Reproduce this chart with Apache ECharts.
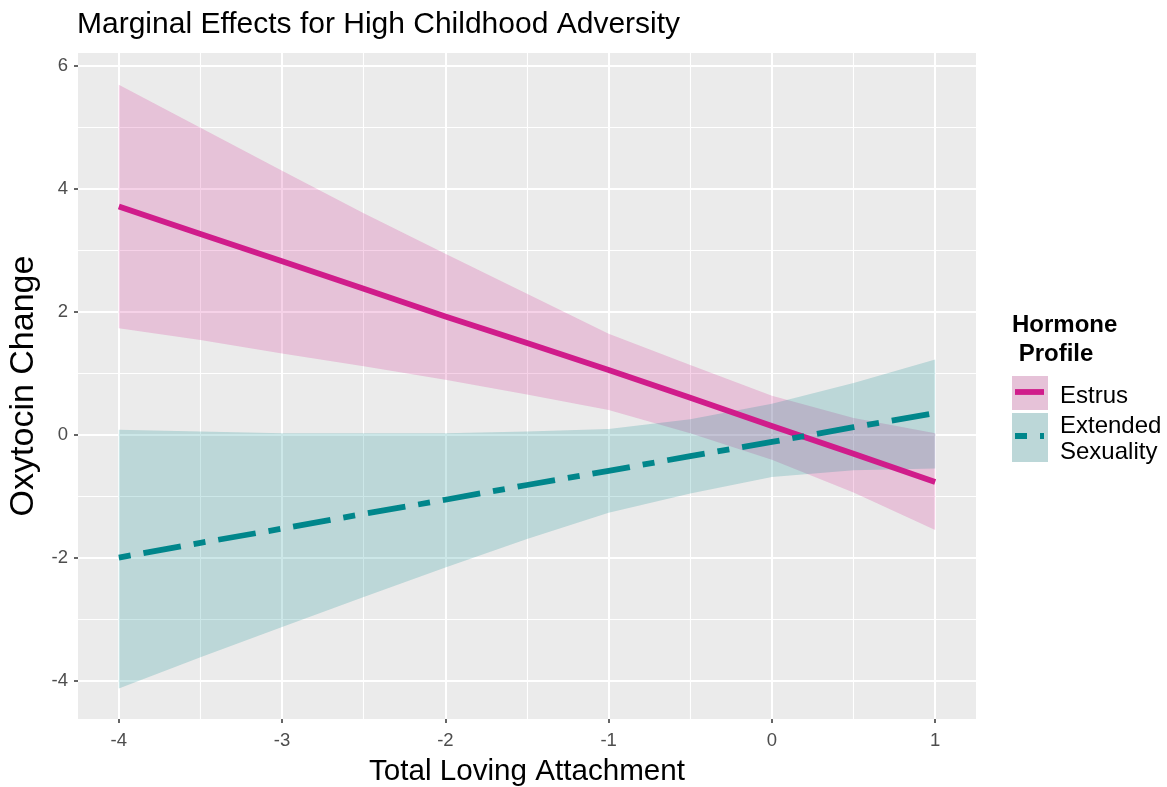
<!DOCTYPE html>
<html>
<head>
<meta charset="utf-8">
<title>Marginal Effects for High Childhood Adversity</title>
<script src="https://cdn.jsdelivr.net/npm/echarts@6/dist/echarts.min.js"></script>
<style>
  html, body { margin: 0; padding: 0; background: #ffffff; }
  #chart { width: 1167px; height: 787px; }
</style>
</head>
<body>
<div id="chart"></div>
<script>
// Total Loving Attachment values at which the marginal effects were evaluated
const attachment = [-4, -3.5, -3, -2.5, -2, -1.5, -1, -0.5, 0, 0.5, 1];

// Estrus: predicted oxytocin change with its confidence band
const estrusFit   = [3.72, 3.27, 2.83, 2.38, 1.93, 1.50, 1.06, 0.61, 0.15, -0.30, -0.76];
const estrusLower = [1.74, 1.55, 1.33, 1.12, 0.90, 0.66, 0.41, 0.03, -0.40, -0.93, -1.54];
const estrusUpper = [5.70, 5.00, 4.30, 3.61, 2.95, 2.30, 1.65, 1.14, 0.64, 0.28, 0.03];

// Extended Sexuality: predicted oxytocin change with its confidence band
const extendedFit   = [-1.99, -1.75, -1.52, -1.28, -1.05, -0.81, -0.58, -0.34, -0.11, 0.13, 0.36];
const extendedLower = [-4.12, -3.61, -3.12, -2.63, -2.15, -1.69, -1.26, -0.95, -0.68, -0.57, -0.54];
const extendedUpper = [0.09, 0.06, 0.03, 0.03, 0.03, 0.06, 0.10, 0.26, 0.51, 0.85, 1.23];

// Axis ticks
const xTicks = [-4, -3, -2, -1, 0, 1];
const xMinorTicks = [-3.5, -2.5, -1.5, -0.5, 0.5];
const yTicks = [-4, -2, 0, 2, 4, 6];
const yMinorTicks = [-3, -1, 1, 3, 5];

// Legend entries
const groupNames = ['Estrus', 'Extended Sexuality'];
const groupLabels = ['Estrus', 'Extended\nSexuality'];
const legendTitle = 'Hormone\n Profile';

const FONT = "'Liberation Sans', Arial, Helvetica, sans-serif";
const PINK = '#D01C8B';
const TEAL = '#00868B';
const PINK_FILL = 'rgba(208, 28, 139, 0.2)';
const TEAL_FILL = 'rgba(0, 134, 139, 0.2)';
const PANEL = '#EBEBEB';
const TWODASH = [12, 13, 38, 13];

const chart = echarts.init(document.getElementById('chart'), null, { renderer: 'canvas' });

// Confidence band drawn as one closed polygon: upper edge left to right, lower edge back
function bandSeries(name, lower, upper, fill, z) {
  return {
    type: 'custom',
    name: name + ' band',
    xAxisIndex: 0,
    yAxisIndex: 0,
    z: z,
    silent: true,
    data: attachment.map((x, i) => [x, lower[i], upper[i]]),
    encode: { x: 0, y: [1, 2] },
    renderItem: function (params, api) {
      if (params.dataIndex !== 0) return null;
      const pts = [];
      for (let i = 0; i < attachment.length; i++) {
        pts.push(api.coord([attachment[i], upper[i]]));
      }
      for (let i = attachment.length - 1; i >= 0; i--) {
        pts.push(api.coord([attachment[i], lower[i]]));
      }
      return { type: 'polygon', shape: { points: pts }, style: { fill: fill, stroke: null } };
    }
  };
}

function fitSeries(name, values, color, dash, z) {
  return {
    type: 'line',
    name: name,
    xAxisIndex: 0,
    yAxisIndex: 0,
    z: z,
    silent: true,
    symbol: 'none',
    showSymbol: false,
    data: attachment.map((x, i) => [x, values[i]]),
    lineStyle: { color: color, width: 5.8, type: dash, cap: 'butt', join: 'round' }
  };
}

const tickLabelStyle = { color: '#4D4D4D', fontSize: 18.5, fontFamily: FONT };

const option = {
  animation: false,
  backgroundColor: '#ffffff',
  title: {
    text: 'Marginal Effects for High Childhood Adversity',
    left: 77,
    top: 10,
    padding: 0,
    textStyle: { fontSize: 30, fontWeight: 'normal', color: '#000000', fontFamily: FONT }
  },
  grid: {
    left: 78, top: 53, width: 898, height: 666,
    containLabel: false,
    outerBoundsMode: 'none',
    show: true,
    backgroundColor: PANEL,
    borderWidth: 0
  },
  xAxis: [
    {
      type: 'value', min: -4.25, max: 1.25, position: 'bottom',
      axisLine: { show: false, onZero: false },
      axisTick: { show: true, inside: false, length: 4, customValues: xTicks, lineStyle: { color: '#333333', width: 1.5 } },
      axisLabel: Object.assign({ show: true, margin: 12, customValues: xTicks }, tickLabelStyle),
      splitLine: { show: true, lineStyle: { color: '#ffffff', width: 2 } },
      name: 'Total Loving Attachment',
      nameLocation: 'middle',
      nameGap: 38,
      nameTextStyle: { fontSize: 29.6, color: '#000000', fontFamily: FONT }
    },
    {
      type: 'value', min: -4.25, max: 1.25, position: 'bottom',
      axisLine: { show: false, onZero: false },
      axisTick: { show: false, customValues: xMinorTicks },
      axisLabel: { show: false, customValues: xMinorTicks },
      splitLine: { show: true, lineStyle: { color: '#ffffff', width: 1.1 } }
    }
  ],
  yAxis: [
    {
      type: 'value', min: -4.615, max: 6.215, position: 'left',
      axisLine: { show: false, onZero: false },
      axisTick: { show: true, inside: false, length: 4, customValues: yTicks, lineStyle: { color: '#333333', width: 1.5 } },
      axisLabel: Object.assign({ show: true, margin: 10, customValues: yTicks }, tickLabelStyle),
      splitLine: { show: true, lineStyle: { color: '#ffffff', width: 2 } },
      name: 'Oxytocin Change',
      nameLocation: 'middle',
      nameGap: 26,
      nameTextStyle: { fontSize: 34, color: '#000000', fontFamily: FONT }
    },
    {
      type: 'value', min: -4.615, max: 6.215, position: 'left',
      axisLine: { show: false, onZero: false },
      axisTick: { show: false, customValues: yMinorTicks },
      axisLabel: { show: false, customValues: yMinorTicks },
      splitLine: { show: true, lineStyle: { color: '#ffffff', width: 1.1 } }
    }
  ],
  series: [
    bandSeries(groupNames[0], estrusLower, estrusUpper, PINK_FILL, 2),
    bandSeries(groupNames[1], extendedLower, extendedUpper, TEAL_FILL, 3),
    fitSeries(groupNames[0], estrusFit, PINK, 'solid', 4),
    fitSeries(groupNames[1], extendedFit, TEAL, TWODASH, 5)
  ],
  graphic: [
    // legend title
    {
      type: 'text', left: 1012, top: 311, z: 10,
      style: { text: legendTitle, fontSize: 24, fontWeight: 'bold', fontFamily: FONT, fill: '#000000', lineHeight: 29 }
    },
    // Estrus key
    { type: 'rect', shape: { x: 1012, y: 376, width: 36, height: 34 }, style: { fill: PANEL }, z: 10 },
    { type: 'rect', shape: { x: 1012, y: 376, width: 36, height: 34 }, style: { fill: PINK_FILL }, z: 11 },
    { type: 'line', shape: { x1: 1015, y1: 392, x2: 1044, y2: 392 }, style: { stroke: PINK, lineWidth: 5.8 }, z: 12 },
    {
      type: 'text', x: 1060, y: 396, z: 10,
      style: { text: groupLabels[0], fontSize: 24, fontFamily: FONT, fill: '#000000', verticalAlign: 'middle' }
    },
    // Extended Sexuality key
    { type: 'rect', shape: { x: 1012, y: 413, width: 36, height: 49 }, style: { fill: PANEL }, z: 10 },
    { type: 'rect', shape: { x: 1012, y: 413, width: 36, height: 49 }, style: { fill: TEAL_FILL }, z: 11 },
    { type: 'line', shape: { x1: 1015, y1: 436, x2: 1044, y2: 436 }, style: { stroke: TEAL, lineWidth: 5.8, lineDash: TWODASH }, z: 12 },
    {
      type: 'text', x: 1060, y: 439.5, z: 10,
      style: { text: groupLabels[1], fontSize: 24, fontFamily: FONT, fill: '#000000', verticalAlign: 'middle', lineHeight: 26 }
    }
  ]
};

chart.setOption(option);
</script>
</body>
</html>
